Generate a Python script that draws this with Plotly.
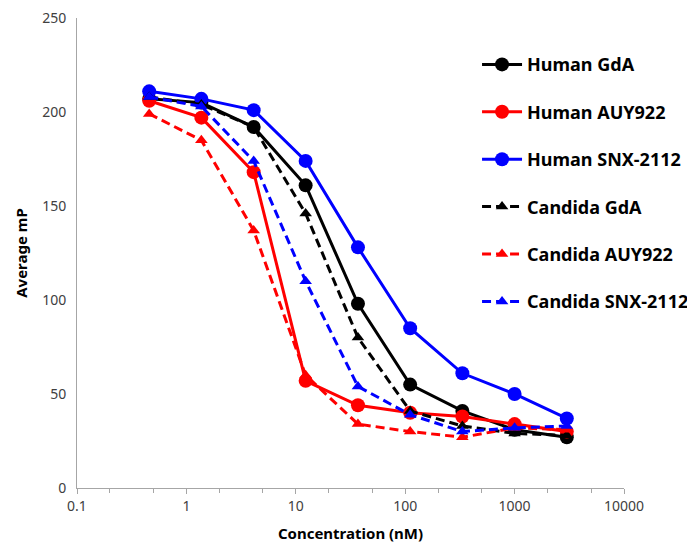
import plotly.graph_objects as go

conc = [0.457, 1.37, 4.12, 12.3, 37.0, 111, 333, 1000, 3000]

human_gda = [207, 205, 192, 161, 98, 55, 41, 31, 27]
human_auy922 = [206, 197, 168, 57, 44, 40, 38, 34, 30]
human_snx2112 = [211, 207, 201, 174, 128, 85, 61, 50, 37]
candida_gda = [208, 204, 192, 146, 80, 41, 33, 29, 28]
candida_auy922 = [199, 185, 137, 60, 34, 30, 27, 32, 31]
candida_snx2112 = [208, 203, 174, 110, 54, 39, 30, 32, 33]

series = [
    ("Human GdA", human_gda, "black", "solid", "circle"),
    ("Human AUY922", human_auy922, "#ff0000", "solid", "circle"),
    ("Human SNX-2112", human_snx2112, "#0000ff", "solid", "circle"),
    ("Candida GdA", candida_gda, "black", "9px,5px", "triangle-up"),
    ("Candida AUY922", candida_auy922, "#ff0000", "9px,5px", "triangle-up"),
    ("Candida SNX-2112", candida_snx2112, "#0000ff", "9px,5px", "triangle-up"),
]

fig = go.Figure()
for i, (name, vals, col, dash, sym) in enumerate(series):
    fig.add_trace(go.Scatter(
        x=conc, y=vals, name=name, mode="lines+markers",
        line=dict(color=col, width=3, dash=dash),
        marker=dict(symbol=sym, size=14 if sym == "circle" else 11, color=col,
                    line=dict(width=0)),
        legendgroup=f"g{i}",
    ))

font_family = "Noto Sans, Open Sans, sans-serif"
fig.update_layout(
    width=695, height=545,
    margin=dict(l=69, r=78, t=10, b=65),
    paper_bgcolor="white", plot_bgcolor="white",
    font=dict(family=font_family, color="#404040"),
    showlegend=True,
    legend=dict(
        x=0.73, y=0.94, xanchor="left", yanchor="top",
        font=dict(size=18, color="black", family="Noto Sans, sans-serif", weight="bold"),
        tracegroupgap=21, itemwidth=40,
        bgcolor="rgba(255,255,255,0)",
    ),
    xaxis=dict(
        type="log", range=[-1, 4], automargin=False,
        tickvals=[0.1, 1, 10, 100, 1000, 10000],
        ticktext=["0.1", "1", "10", "100", "1000", "10000"],
        showline=True, linecolor="#a6a6a6", linewidth=1,
        ticks="outside", ticklen=5, tickcolor="#a6a6a6",
        minor=dict(ticks="outside", ticklen=4, tickcolor="#a6a6a6", showgrid=False),
        showgrid=False, zeroline=False, ticklabeloverflow="allow",
        tickfont=dict(size=14, color="#404040"),
        title=dict(text="<b>Concentration (nM)</b>", font=dict(size=15, color="black"), standoff=14),
    ),
    yaxis=dict(
        range=[0, 250.01], tickvals=[0, 50, 100, 150, 200, 250], automargin=False,
        showline=True, linecolor="#a6a6a6", linewidth=1,
        ticks="", showgrid=False, zeroline=False, ticklabelstandoff=7,
        ticklabeloverflow="allow",
        tickfont=dict(size=14, color="#404040"),
        title=dict(text="<b>Average mP</b>", font=dict(size=15, color="black"), standoff=10),
    ),
)

fig.write_html("out.html")
